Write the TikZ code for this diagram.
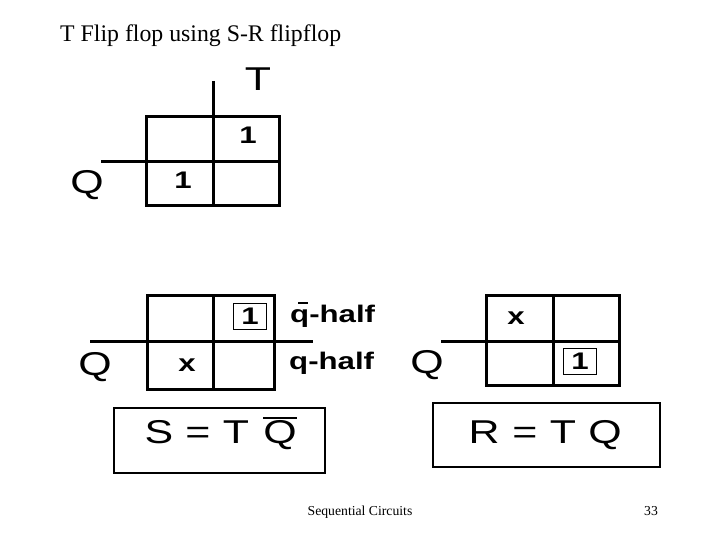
\documentclass[tikz,border=0pt]{standalone}
\usepackage{fontspec}
\setmainfont{Liberation Serif}
\newfontfamily\hv{Liberation Sans}
\newcommand{\widetxt}[1]{\scalebox{1.3}[1]{#1}}
\begin{document}
\begin{tikzpicture}[x=1pt,y=-1pt,
  grid/.style={line width=3pt},
  big/.style={font=\hv\fontsize{33}{33}\selectfont, inner sep=0pt},
  mid/.style={font=\hv\bfseries\fontsize{24}{24}\selectfont, inner sep=0pt},
  half/.style={font=\hv\bfseries\fontsize{24}{24}\selectfont, inner sep=0pt, anchor=base west},
  boxone/.style={draw, line width=1pt, minimum width=33pt, minimum height=26pt, inner sep=0pt, font=\hv\bfseries\fontsize{24}{24}\selectfont},
  eqbox/.style={draw, line width=2pt},
  serif/.style={inner sep=0pt, anchor=base}]
\useasboundingbox (0,0) rectangle (720,540);

% title
\node[serif, anchor=base west, font=\fontsize{23.8}{24}\selectfont] (title) at (60,42) {T Flip flop using S-R flipflop};

% top K-map
\draw[grid] (146,117) rectangle (279,206);
\draw[grid] (213,81) -- (213,206);
\draw[grid] (101,162) -- (279,162);
\node[big] (tT) at (258,79) {\widetxt{T}};
\node[big] (tQ) at (87,185) {\widetxt{Q}};
\node[mid] (t1a) at (248,135) {\widetxt{1}};
\node[mid] (t1b) at (183,180) {\widetxt{1}};

% bottom-left K-map
\draw[grid] (147,295) rectangle (274,389);
\draw[grid] (213,295) -- (213,389);
\draw[grid] (90,341) -- (313,341);
\node[boxone] (l1) at (250,316) {\widetxt{1}};
\node[mid] (lx) at (187,365) {\widetxt{x}};
\node[big] (lQ) at (95,367) {\widetxt{Q}};
\node[half] (qbh) at (290,322) {\widetxt{q-half}};
\draw[line width=2pt] (298,303) -- (308,303);
\node[half] (qh) at (289,369) {\widetxt{q-half}};

% bottom-right K-map
\draw[grid] (486,295) rectangle (619,385);
\draw[grid] (553,295) -- (553,385);
\draw[grid] (441,341) -- (619,341);
\node[mid] (rx) at (516,318) {\widetxt{x}};
\node[boxone] (r1) at (580,361) {\widetxt{1}};
\node[big] (rQ) at (427,365) {\widetxt{Q}};

% equation boxes
\draw[eqbox] (114,408) rectangle (325,473);
\node[big, anchor=base] (sS) at (159,443) {\widetxt{S}};
\node[big, anchor=base] (sE) at (198,443) {\widetxt{=}};
\node[big, anchor=base] (sT) at (236,443) {\widetxt{T}};
\node[big, anchor=base] (sQ) at (280,443) {\widetxt{Q}};
\draw[line width=2.5pt] (263,418) -- (297,418);

\draw[eqbox] (433,403) rectangle (660,467);
\node[big, anchor=base] (rR) at (484,443) {\widetxt{R}};
\node[big, anchor=base] (rE) at (525,443) {\widetxt{=}};
\node[big, anchor=base] (rT) at (563,443) {\widetxt{T}};
\node[big, anchor=base] (rQ2) at (605,443) {\widetxt{Q}};

% footer
\node[serif, font=\fontsize{13.7}{14}\selectfont] (foot) at (360,515) {Sequential Circuits};
\node[serif, font=\fontsize{13.7}{14}\selectfont] (pg) at (651,515) {33};
\end{tikzpicture}
\end{document}
